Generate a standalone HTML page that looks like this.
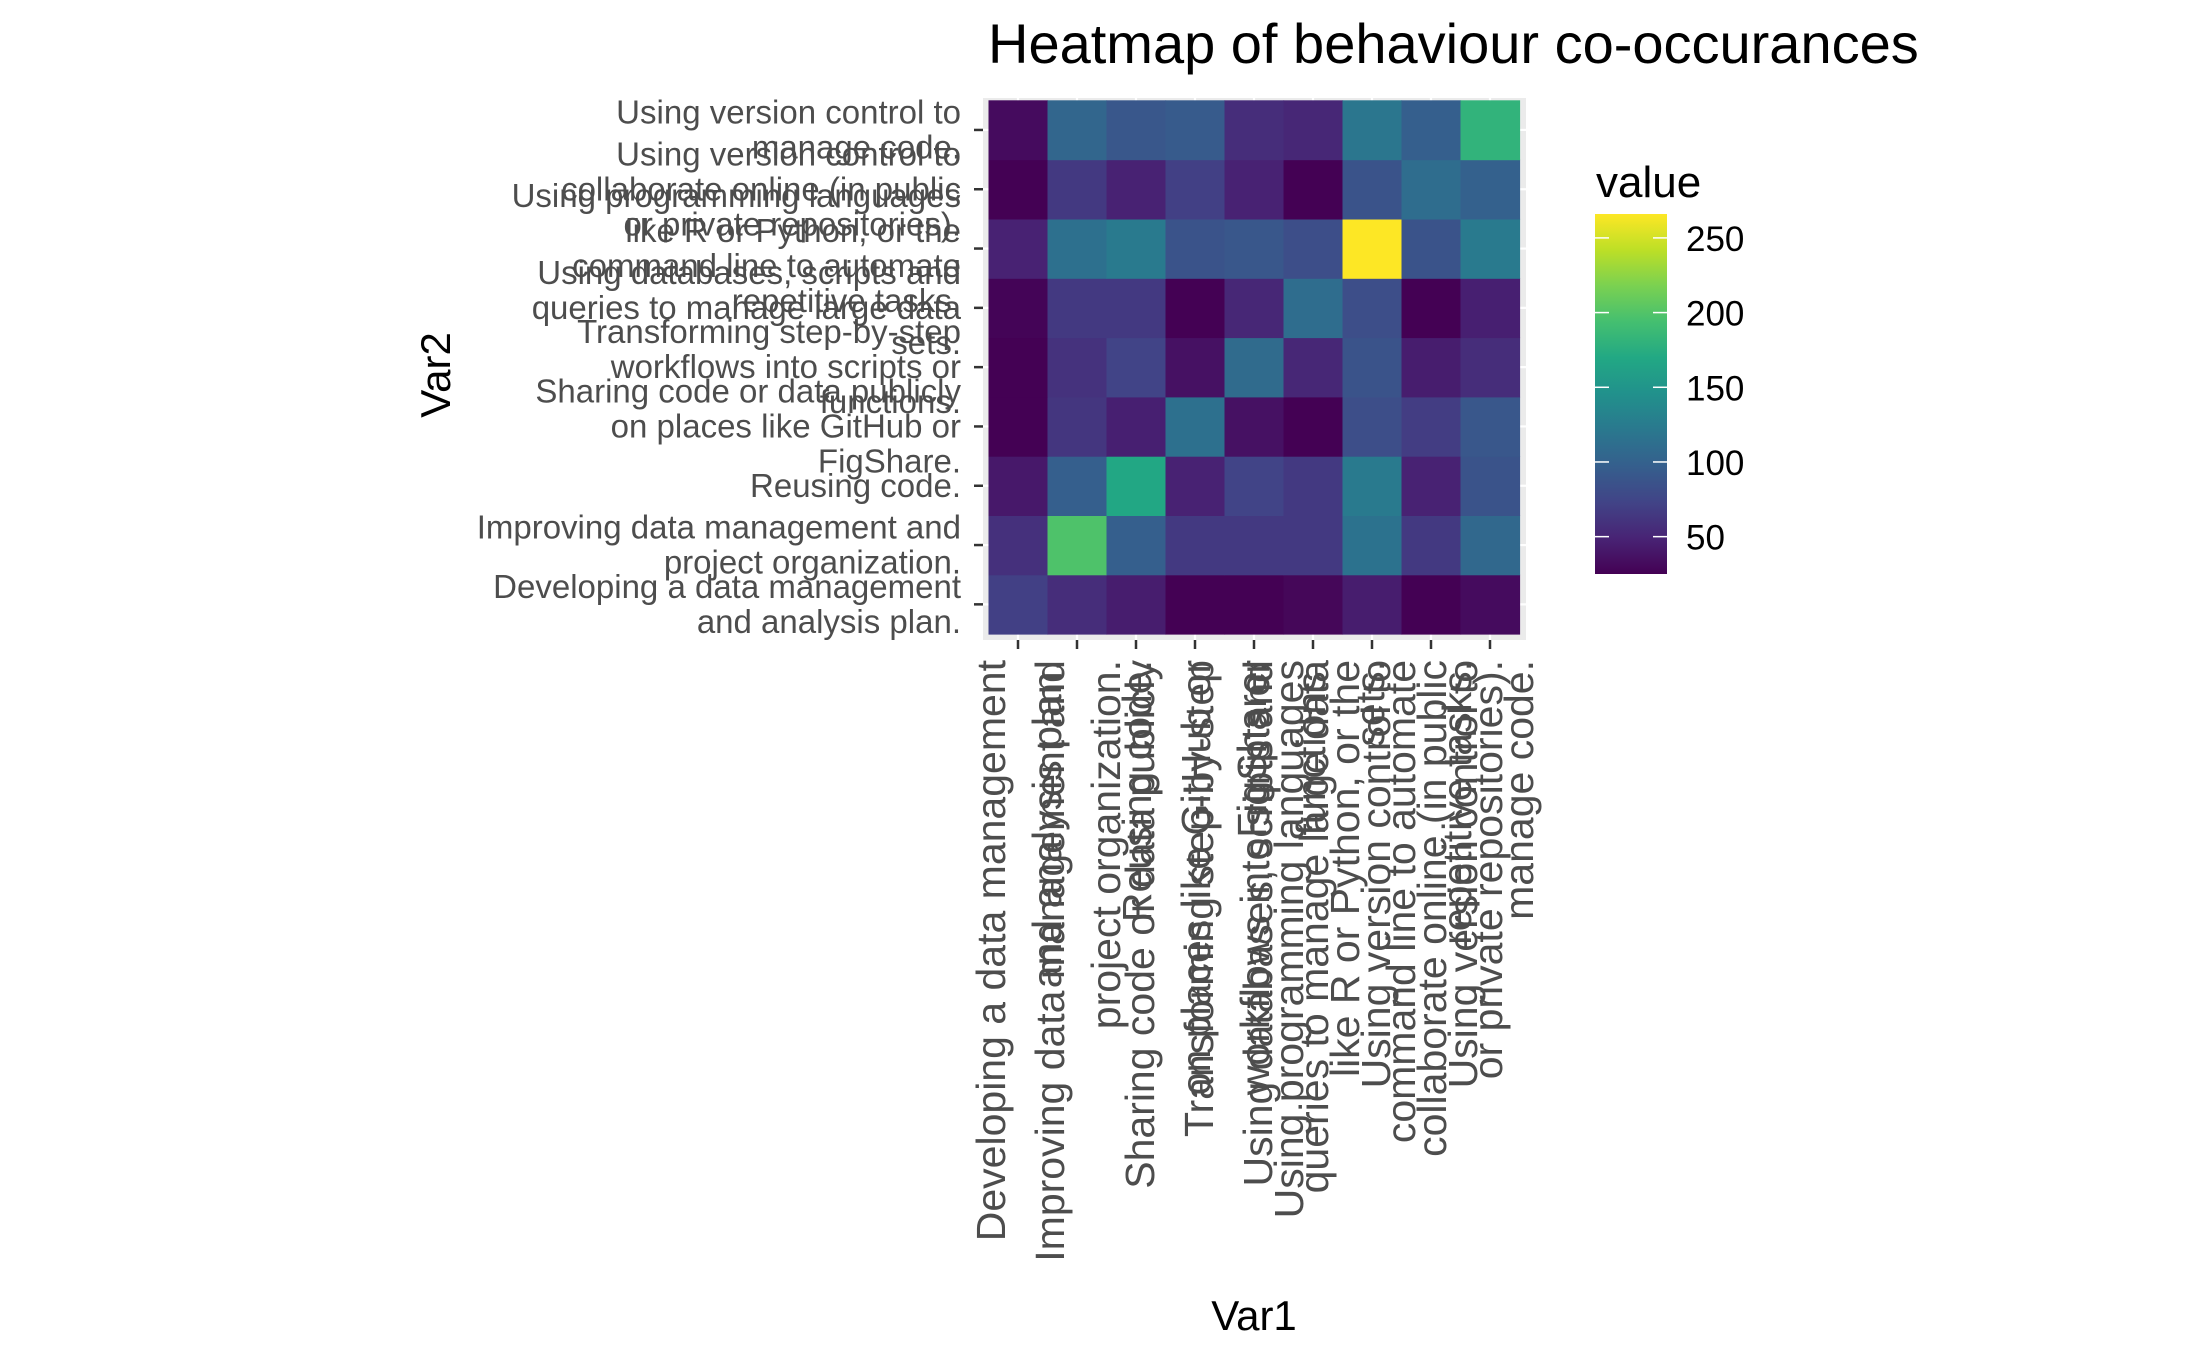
<!DOCTYPE html>
<html><head><meta charset="utf-8"><style>
html,body{margin:0;padding:0;background:#fff;}
svg{display:block;font-family:"Liberation Sans",Arial,sans-serif;}
</style></head><body>
<svg id="chart" width="2187" height="1351" viewBox="0 0 2187 1351" xmlns="http://www.w3.org/2000/svg">
<rect x="0" y="0" width="2187" height="1351" fill="#fff"/>
<text x="988" y="63" font-size="56" fill="#000">Heatmap of behaviour co-occurances</text>
<rect x="983" y="98" width="543" height="542" fill="#ebebeb"/>
<g id="gridg"></g>
<g id="tiles"></g>
<g id="yaxis"></g>
<g id="xaxis"></g>
<text transform="translate(450,375) rotate(-90)" text-anchor="middle" font-size="42" fill="#000">Var2</text>
<text x="1254" y="1330" text-anchor="middle" font-size="42" fill="#000">Var1</text>
<g id="legend">
<text x="1596" y="197" font-size="44" fill="#000">value</text>
<defs><linearGradient id="vg" x1="0" y1="1" x2="0" y2="0"></linearGradient></defs>
<rect x="1595" y="214" width="72" height="360" fill="url(#vg)"/>
</g>
</svg>
<script>
// Categories (Var1 left->right, Var2 bottom->top)
const categories = [
  ["Developing a data management","and analysis plan."],
  ["Improving data management and","project organization."],
  ["Reusing code."],
  ["Sharing code or data publicly","on places like GitHub or","FigShare."],
  ["Transforming step-by-step","workflows into scripts or","functions."],
  ["Using databases, scripts and","queries to manage large data","sets."],
  ["Using programming languages","like R or Python, or the","command line to automate","repetitive tasks."],
  ["Using version control to","collaborate online (in public","or private repositories)."],
  ["Using version control to","manage code."]
];
// Values: one row per Var2 category (index 0 = bottom row "Developing..."), columns follow Var1 order
const rowDeveloping   = [70, 56, 44, 25, 25, 29, 44, 25, 32];
const rowImproving    = [58, 198, 97, 65, 65, 65, 116, 65, 106];
const rowReusing      = [41, 97, 169, 48, 73, 65, 123, 48, 87];
const rowSharing      = [25, 63, 46, 114, 36, 25, 82, 68, 90];
const rowTransforming = [25, 60, 73, 36, 109, 51, 87, 44, 56];
const rowDatabases    = [27, 65, 65, 25, 51, 111, 82, 25, 46];
const rowProgramming  = [48, 114, 123, 87, 90, 82, 266, 87, 123];
const rowCollaborate  = [25, 65, 48, 70, 48, 25, 87, 111, 99];
const rowManageCode   = [32, 104, 90, 94, 56, 51, 119, 97, 181];
const valueRows = [rowDeveloping,rowImproving,rowReusing,rowSharing,rowTransforming,rowDatabases,rowProgramming,rowCollaborate,rowManageCode];
const legendTicks = [50, 100, 150, 200, 250];

const NS = "http://www.w3.org/2000/svg";
const viridisStops = ["#440154","#482475","#414487","#355f8d","#2a788e","#21918c","#22a884","#44bf70","#7ad151","#bddf26","#fde725"];
function hex2rgb(h){return [parseInt(h.substr(1,2),16),parseInt(h.substr(3,2),16),parseInt(h.substr(5,2),16)];}
function viridis(t){
  t=Math.max(0,Math.min(1,t));
  const p=t*(viridisStops.length-1), i=Math.min(Math.floor(p),viridisStops.length-2), f=p-i;
  const a=hex2rgb(viridisStops[i]), b=hex2rgb(viridisStops[i+1]);
  return "rgb("+a.map((v,k)=>Math.round(v+(b[k]-v)*f)).join(",")+")";
}
let allVals=[]; valueRows.forEach(r=>allVals=allVals.concat(r));
const vmin=Math.min(...allVals), vmax=Math.max(...allVals);
const colorOf=v=>viridis((v-vmin)/(vmax-vmin));

const tileX0=988.5, tileW=59, tileYBottom=634, tileH=59.3;
const n=categories.length;
const xCenter=i=>tileX0+(i+0.5)*tileW;
const yCenter=j=>tileYBottom-(j+0.5)*tileH;

function el(tag,attrs,parent){const e=document.createElementNS(NS,tag);for(const k in attrs)e.setAttribute(k,attrs[k]);parent.appendChild(e);return e;}

const gridg=document.getElementById('gridg');
for(let i=0;i<n;i++){
  const g1=el('line',{x1:xCenter(i),x2:xCenter(i),y1:98,y2:640,stroke:'#fff','stroke-width':2.2},gridg);
  
  
  const g2=el('line',{x1:983,x2:1526,y1:yCenter(i),y2:yCenter(i),stroke:'#fff','stroke-width':2.2},gridg);
  
  
}

const tiles=document.getElementById('tiles');
for(let j=0;j<n;j++){
  for(let i=0;i<n;i++){
    const v=valueRows[j][i];
    const r=el('rect',{x:tileX0+i*tileW,y:tileYBottom-(j+1)*tileH,width:tileW+0.6,height:tileH+0.6,fill:colorOf(v)},tiles);
    
    
  }
}

const yaxis=document.getElementById('yaxis');
for(let j=0;j<n;j++){
  const yc=yCenter(j);
  const t=el('line',{x1:974,x2:983,y1:yc,y2:yc,stroke:'#333','stroke-width':2.5},yaxis);
  
  
  const lines=categories[j];
  const tx=el('text',{'font-size':33,fill:'#4d4d4d','text-anchor':'end'},yaxis);
  
  
  lines.forEach((ln,k)=>{
    const ts=el('tspan',{x:961,y:yc-(lines.length-1)*17.5+11+k*35},tx);
    ts.textContent=ln;
  });
}

const xaxis=document.getElementById('xaxis');
for(let i=0;i<n;i++){
  const xc=xCenter(i);
  const t=el('line',{x1:xc,x2:xc,y1:640,y2:649,stroke:'#333','stroke-width':2.5},xaxis);
  
  
  const lines=categories[i];
  const g=el('g',{},xaxis);
  
  
  lines.forEach((ln,k)=>{
    const bx=xc-(lines.length-1)*28+15+k*56;
    const tx=el('text',{'font-size':41,fill:'#4d4d4d','text-anchor':'end',transform:'translate('+bx+',660) rotate(-90)'},g);
    tx.textContent=ln;
  });
}

const grad=document.getElementById('vg');
viridisStops.forEach((c,k)=>{el('stop',{offset:(k/(viridisStops.length-1)),'stop-color':c},grad);});
const legend=document.getElementById('legend');
const barTop=214, barBot=574;
const ly=v=>barBot-(v-vmin)/(vmax-vmin)*(barBot-barTop);
legendTicks.forEach(v=>{
  const y=ly(v);
  const a=el('line',{x1:1595,x2:1609,y1:y,y2:y,stroke:'#fff','stroke-width':1.5},legend);
  
  
  const b=el('line',{x1:1653,x2:1667,y1:y,y2:y,stroke:'#fff','stroke-width':1.5},legend);
  
  
  const t=el('text',{x:1686,y:y+13,'font-size':35,fill:'#000'},legend);
  
  
  t.textContent=v;
});
</script>
</body></html>
